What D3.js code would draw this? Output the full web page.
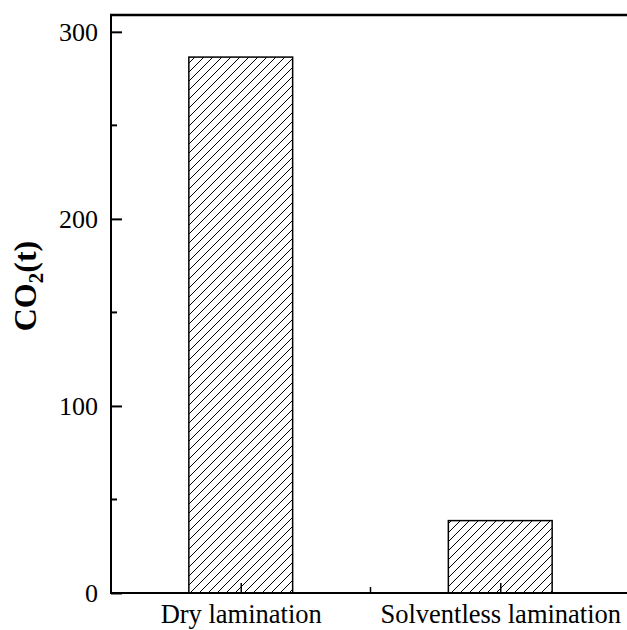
<!DOCTYPE html>
<html>
<head>
<meta charset="utf-8">
<script src="https://d3js.org/d3.v7.min.js"></script>
<style>
  body { margin:0; background:#fff; }
  text { font-family: "Liberation Serif", "Times New Roman", serif; fill:#000; }
</style>
</head>
<body>
<svg id="drawing_region"></svg>
<script>
const categories = ["Dry lamination", "Solventless lamination"];
const co2Values = [286.5, 38.7];
const yMajorTicks = [0, 100, 200, 300];
const yMinorTicks = [50, 150, 250];
const xMinorTicks = [1.5];

var config = {
    parent: '#drawing_region',
    width: 627,
    height: 630,
    margin: {top:15, right:-3, bottom:37, left:111}
};

const data = categories.map((c, i) => ({label: c, pos: i + 1, value: co2Values[i]}));

const svg = d3.select(config.parent)
    .attr('width', config.width)
    .attr('height', config.height);

const inner_width = config.width - config.margin.left - config.margin.right;
const inner_height = config.height - config.margin.top - config.margin.bottom;

const chart = svg.append('g')
    .attr('transform', `translate(${config.margin.left}, ${config.margin.top})`);

// hatch pattern for bars
const defs = svg.append('defs');
const pat = defs.append('pattern')
    .attr('id', 'hatch')
    .attr('patternUnits', 'userSpaceOnUse')
    .attr('width', 9)
    .attr('height', 9);
pat.append('rect').attr('width', 9).attr('height', 9).attr('fill', '#fff');
pat.append('path')
    .attr('d', 'M-2,2 l4,-4 M0,9 l9,-9 M7,11 l4,-4')
    .attr('stroke', '#000')
    .attr('stroke-width', 1);

// scales
const xscale = d3.scaleLinear()
    .domain([0.5, 2.5])
    .range([0, inner_width]);

const yscale = d3.scaleLinear()
    .domain([0, 309])
    .range([inner_height, 0]);

const barWidth = 0.4;

// bars
chart.selectAll('rect.bar')
    .data(data)
    .join('rect')
    .attr('class', 'bar')
    .attr('x', d => xscale(d.pos - barWidth / 2))
    .attr('y', d => yscale(d.value))
    .attr('width', d => xscale(d.pos + barWidth / 2) - xscale(d.pos - barWidth / 2))
    .attr('height', d => yscale(0) - yscale(d.value))
    .attr('fill', 'url(#hatch)')
    .attr('stroke', '#000')
    .attr('stroke-width', 1.5);

// y axis (ticks inside)
const yaxis = d3.axisLeft(yscale)
    .tickValues(yMajorTicks)
    .tickSize(-11)
    .tickSizeOuter(0)
    .tickPadding(13);

const yaxis_group = chart.append('g').call(yaxis);
yaxis_group.select('.domain').remove();
yaxis_group.selectAll('.tick line').attr('stroke', '#000').attr('stroke-width', 2);
yaxis_group.selectAll('.tick text')
    .attr('font-size', 26)
    .attr('font-family', '"Liberation Serif", serif');

chart.append('g')
    .selectAll('line')
    .data(yMinorTicks)
    .join('line')
    .attr('x1', 0).attr('x2', 6)
    .attr('y1', d => yscale(d)).attr('y2', d => yscale(d))
    .attr('stroke', '#000').attr('stroke-width', 2);

// x axis
const xaxis = d3.axisBottom(xscale)
    .tickValues(data.map(d => d.pos))
    .tickFormat((d, i) => categories[i])
    .tickSize(-10)
    .tickSizeOuter(0)
    .tickPadding(11);

const xaxis_group = chart.append('g')
    .attr('transform', `translate(0, ${inner_height})`)
    .call(xaxis);
xaxis_group.select('.domain').remove();
xaxis_group.selectAll('.tick line').attr('stroke', '#000').attr('stroke-width', 1.5);
xaxis_group.selectAll('.tick text')
    .attr('font-size', 26.5)
    .attr('font-family', '"Liberation Serif", serif');

chart.append('g')
    .selectAll('line')
    .data(xMinorTicks)
    .join('line')
    .attr('x1', d => xscale(d)).attr('x2', d => xscale(d))
    .attr('y1', inner_height).attr('y2', inner_height - 6)
    .attr('stroke', '#000').attr('stroke-width', 1.5);

// frame lines: left, bottom, top
chart.append('line')
    .attr('x1', 0).attr('x2', 0)
    .attr('y1', -1).attr('y2', inner_height + 1)
    .attr('stroke', '#000').attr('stroke-width', 2);
chart.append('line')
    .attr('x1', -1).attr('x2', inner_width)
    .attr('y1', inner_height).attr('y2', inner_height)
    .attr('stroke', '#000').attr('stroke-width', 2);
chart.append('line')
    .attr('x1', -1).attr('x2', inner_width)
    .attr('y1', 0).attr('y2', 0)
    .attr('stroke', '#000').attr('stroke-width', 2.5);

// y label
const ylabel = svg.append('text')
    .attr('transform', 'translate(36, 286) rotate(-90)')
    .attr('text-anchor', 'middle')
    .attr('font-size', 32)
    .attr('font-weight', 'bold');
ylabel.append('tspan').text('CO');
ylabel.append('tspan').attr('font-size', 21).attr('dy', 7).text('2');
ylabel.append('tspan').attr('dy', -7).text('(t)');
</script>
</body>
</html>
